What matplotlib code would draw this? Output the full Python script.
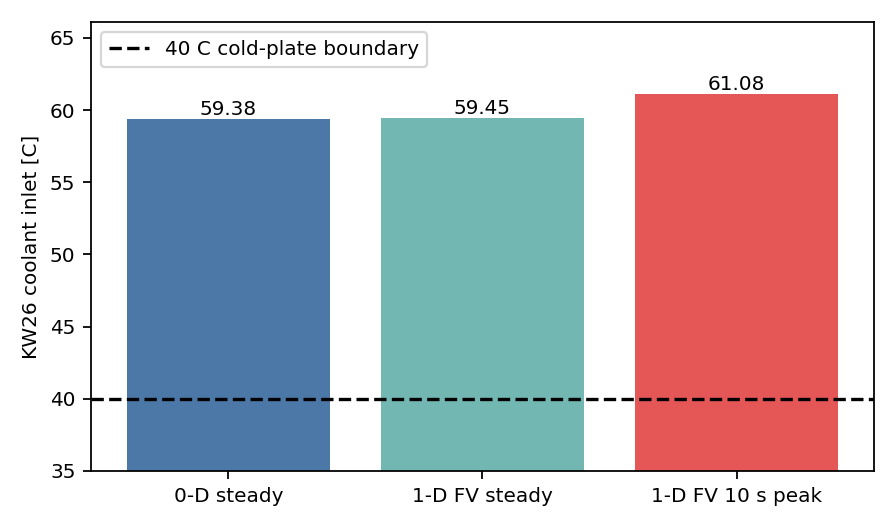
import matplotlib
matplotlib.use("Agg")
import matplotlib.pyplot as plt

categories = ["0-D steady", "1-D FV steady", "1-D FV 10 s peak"]
values = [59.38, 59.45, 61.08]
colors = ["#4c78a8", "#72b7b2", "#e45756"]
boundary = 40.0

fig, ax = plt.subplots(figsize=(5.6, 3.3), dpi=160)
bars = ax.bar(categories, values, color=colors, width=0.8)
for b, v in zip(bars, values):
    ax.text(b.get_x() + b.get_width() / 2, v, f"{v:.2f}", ha="center", va="bottom", fontsize=9)
ax.axhline(boundary, color="black", linestyle="--", linewidth=1.5, label="40 C cold-plate boundary")
ax.set_ylim(35, 66.1)
ax.set_ylabel("KW26 coolant inlet [C]", fontsize=9)
ax.tick_params(labelsize=9)
ax.legend(loc="upper left", fontsize=9)
fig.subplots_adjust(left=0.1016, right=0.9754, top=0.9583, bottom=0.108)
fig.savefig("out.png", dpi=160)
